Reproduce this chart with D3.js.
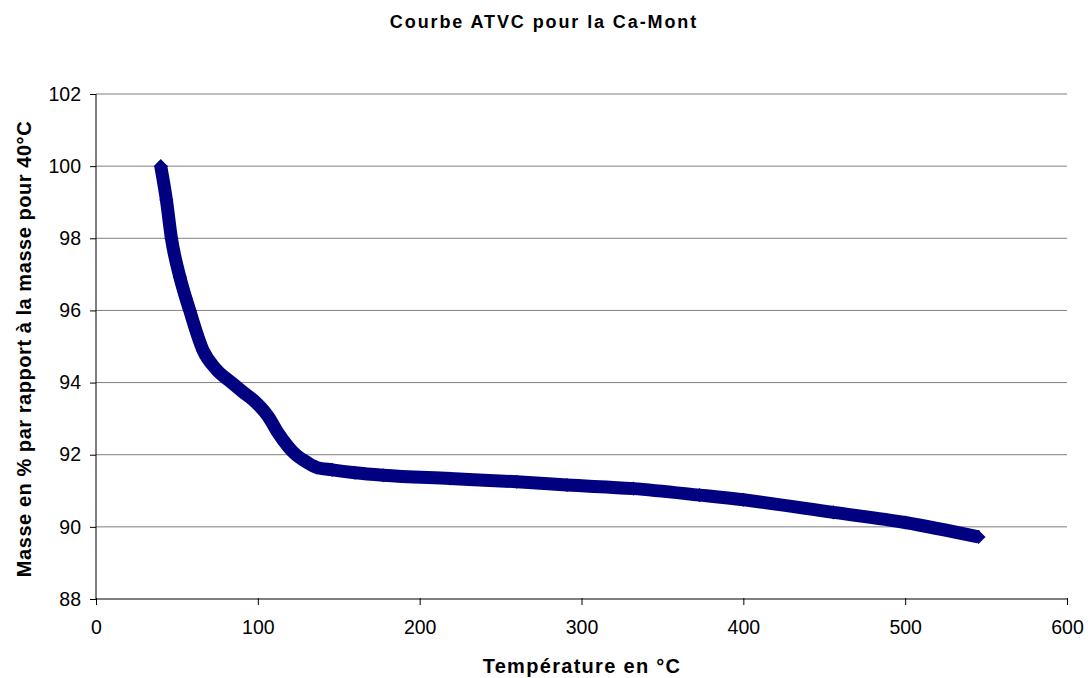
<!DOCTYPE html>
<html>
<head>
<meta charset="utf-8">
<script src="https://cdn.jsdelivr.net/npm/d3@7"></script>
<style>
body { margin: 0; background: #fff; }
text { font-family: "Liberation Sans", Arial, sans-serif; fill: #000; }
.grid line { stroke: #808080; stroke-width: 1; }
</style>
</head>
<body>
<script>
// temperature (°C) and mass (% of mass at 40°C)
var temperature = [40, 43.5, 46.6, 51.8, 57.9, 66.2, 74, 83.7, 90.5, 97.1, 106.4, 112.6, 124, 130, 136.3, 146, 160, 177.5, 218.7, 260, 291, 332, 373, 400, 455.6, 500, 545.3];
var masse = [100.0, 99.06, 98.0, 96.93, 96.0, 94.89, 94.38, 94.0, 93.75, 93.52, 93.06, 92.6, 91.98, 91.8, 91.65, 91.58, 91.5, 91.43, 91.34, 91.25, 91.16, 91.06, 90.88, 90.75, 90.4, 90.12, 89.72];
var xTicks = [0, 100, 200, 300, 400, 500, 600];
var yTicks = [88, 90, 92, 94, 96, 98, 100, 102];

var width = 1088, height = 678;
var margin = {left: 96, right: 21, top: 94, bottom: 79};

var x = d3.scaleLinear().domain([0, 600]).range([margin.left, width - margin.right]);
var y = d3.scaleLinear().domain([88, 102]).range([height - margin.bottom, margin.top]);

var svg = d3.select("body").append("svg")
	.attr("width", width)
	.attr("height", height);

// gridlines
svg.append("g")
	.attr("class", "grid")
  .selectAll("line")
	.data(yTicks.filter(function(d){ return d > 88; }))
	.enter().append("line")
	.attr("x1", x(0)).attr("x2", x(600))
	.attr("y1", function(d){ return y(d); })
	.attr("y2", function(d){ return y(d); });

var axisx = svg.append("g")
	.attr("transform", "translate(0," + y(88) + ")")
	.call(d3.axisBottom(x).tickValues(xTicks).tickSize(6).tickPadding(15));
var axisy = svg.append("g")
	.attr("transform", "translate(" + x(0) + ",0)")
	.call(d3.axisLeft(y).tickValues(yTicks).tickSize(6).tickPadding(9));

[axisx, axisy].forEach(function(a){
	a.select(".domain").attr("stroke", "#000").attr("d", a === axisx ? "M" + x(0) + ",0H" + x(600) : "M0," + y(102) + "V" + y(88));
	a.selectAll(".tick line").attr("stroke", "#000");
	a.selectAll("text").style("font-size", "19.5px").attr("fill", "#000");
});
axisx.selectAll(".tick line").attr("y1", -1);

var pts = temperature.map(function(t, i){ return [t, masse[i]]; });

var line = d3.line()
	.x(function(d){ return x(d[0]); })
	.y(function(d){ return y(d[1]); })
	.curve(d3.curveMonotoneX);

svg.append("path")
	.datum(pts)
	.attr("d", line)
	.attr("fill", "none")
	.attr("stroke", "#000080")
	.attr("stroke-width", 13)
	.attr("stroke-linejoin", "round");

svg.selectAll(".pt")
	.data(pts)
	.enter().append("path")
	.attr("class", "pt")
	.attr("d", d3.symbol().type(d3.symbolSquare).size(100))
	.attr("transform", function(d){ return "translate(" + x(d[0]) + "," + y(d[1]) + ") rotate(45)"; })
	.attr("fill", "#000080");

svg.append("text")
	.attr("x", 544).attr("y", 28)
	.attr("text-anchor", "middle")
	.style("font-size", "18px").style("font-weight", "bold").style("letter-spacing", "1.9px")
	.text("Courbe ATVC pour la Ca-Mont");

svg.append("text")
	.attr("x", 582).attr("y", 673)
	.attr("text-anchor", "middle")
	.style("font-size", "20px").style("font-weight", "bold").style("letter-spacing", "1.3px")
	.text("Température en °C");

svg.append("text")
	.attr("transform", "translate(31,349) rotate(-90)")
	.attr("text-anchor", "middle")
	.style("font-size", "20px").style("font-weight", "bold").style("letter-spacing", "0.55px")
	.text("Masse en % par rapport à la masse pour 40°C");
</script>
</body>
</html>
